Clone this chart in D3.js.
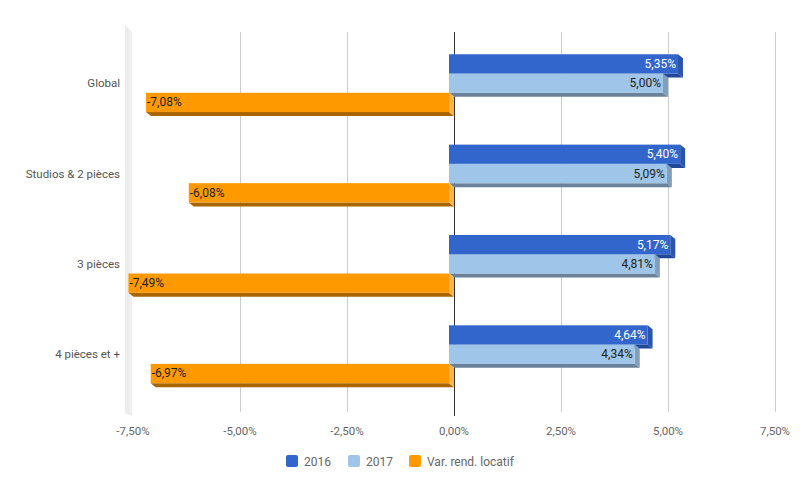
<!DOCTYPE html>
<html><head><meta charset="utf-8">
<script src="https://cdn.jsdelivr.net/npm/d3@7"></script>
<style>body{margin:0;background:#fff}svg{font-family:Roboto,Arial,sans-serif}</style>
</head><body><svg id="c" width="800" height="493"></svg>
<script>
const categories = ["Global", "Studios & 2 pièces", "3 pièces", "4 pièces et +"];
const seriesNames = ["2016", "2017", "Var. rend. locatif"];
const v2016 = [5.35, 5.40, 5.17, 4.64];
const v2017 = [5.00, 5.09, 4.81, 4.34];
const vVar = [-7.08, -6.08, -7.49, -6.97];
const tickValues = [-7.5, -5, -2.5, 0, 2.5, 5, 7.5];

const series = [v2016, v2017, vVar];
const colors = [
  {front:"#3366cc", side:"#2a55aa", bottom:"#23479a", text:"#fff"},
  {front:"#9fc5e8", side:"#7f9fbd", bottom:"#6a8299", text:"#222"},
  {front:"#ff9900", side:"#ffb547", bottom:"#a86500", text:"#222"}
];
const loc = d3.formatLocale({decimal:",", thousands:" ", grouping:[3], currency:["","€"], minus:"-"});
const fmt = v => loc.format(".2f")(v) + "%";

const svg = d3.select("#c");
const x = d3.scaleLinear().domain([-7.5, 7.5]).range([133, 775]);
const y = d3.scaleBand().domain(categories).range([38, 399.4]).paddingInner(0.36).paddingOuter(0.18);
const ys = d3.scaleBand().domain(d3.range(3)).range([0, y.bandwidth()]);
const dx = 5, dy = 4;
const gTop = 32, gBot = 412;

// left wall
svg.append("polygon").attr("points", `125,25 132,32 132,416 125,413`).attr("fill", "#ececec");
svg.append("line").attr("x1",131).attr("x2",131).attr("y1",33).attr("y2",415).attr("stroke","#f6f6f6").attr("stroke-width",1);

// gridlines
svg.append("g").selectAll("line").data(tickValues.filter(t => t !== 0 && t !== -7.5)).join("line")
  .attr("x1", d => Math.round(x(d)) + 0.5).attr("x2", d => Math.round(x(d)) + 0.5)
  .attr("y1", gTop).attr("y2", gBot).attr("stroke", "#cccccc");
svg.append("line").attr("x1", Math.round(x(0)) + 0.5).attr("x2", Math.round(x(0)) + 0.5)
  .attr("y1", gTop).attr("y2", 416).attr("stroke", "#333");

// tick labels
svg.append("g").selectAll("text").data(tickValues).join("text")
  .attr("x", d => x(d)).attr("y", 435).attr("text-anchor", "middle")
  .attr("font-size", 11.5).attr("fill", "#666").text(d => fmt(d));

// category labels
svg.append("g").selectAll("text").data(categories).join("text")
  .attr("x", 120).attr("y", d => y(d) + y.bandwidth() / 2 + 4).attr("text-anchor", "end")
  .attr("font-size", 11.5).attr("fill", "#555").text(d => d);

// bars
const g = svg.append("g");
categories.forEach((cat, i) => {
  series.forEach((s, k) => {
    const v = s[i];
    const y0 = y(cat) + ys(k), h = ys.bandwidth();
    const xa = x(Math.min(0, v)) - dx, xb = x(Math.max(0, v)) - dx;
    const c = colors[k];
    g.append("polygon").attr("points", `${xa},${y0+h} ${xb},${y0+h} ${xb+dx},${y0+h+dy} ${xa+dx},${y0+h+dy}`).attr("fill", c.bottom);
    g.append("polygon").attr("points", `${xb},${y0} ${xb+dx},${y0+dy} ${xb+dx},${y0+h+dy} ${xb},${y0+h}`).attr("fill", c.side);
    g.append("rect").attr("x", xa).attr("y", y0).attr("width", xb - xa).attr("height", h).attr("fill", c.front);
    const t = g.append("text").attr("y", y0 + h / 2 + 4).attr("font-size", 12).attr("fill", c.text).text(fmt(v));
    if (v >= 0) t.attr("x", xb - 2).attr("text-anchor", "end");
    else t.attr("x", xa + 1).attr("text-anchor", "start");
  });
});

// legend
const lx = [286, 348, 409];
const lg = svg.append("g");
seriesNames.forEach((n, k) => {
  lg.append("rect").attr("x", lx[k]).attr("y", 455).attr("width", 12).attr("height", 12).attr("rx", 2).attr("fill", colors[k].front);
  lg.append("text").attr("x", lx[k] + 18).attr("y", 465.5).attr("font-size", 12).attr("fill", "#666").text(n);
});
</script></body></html>
